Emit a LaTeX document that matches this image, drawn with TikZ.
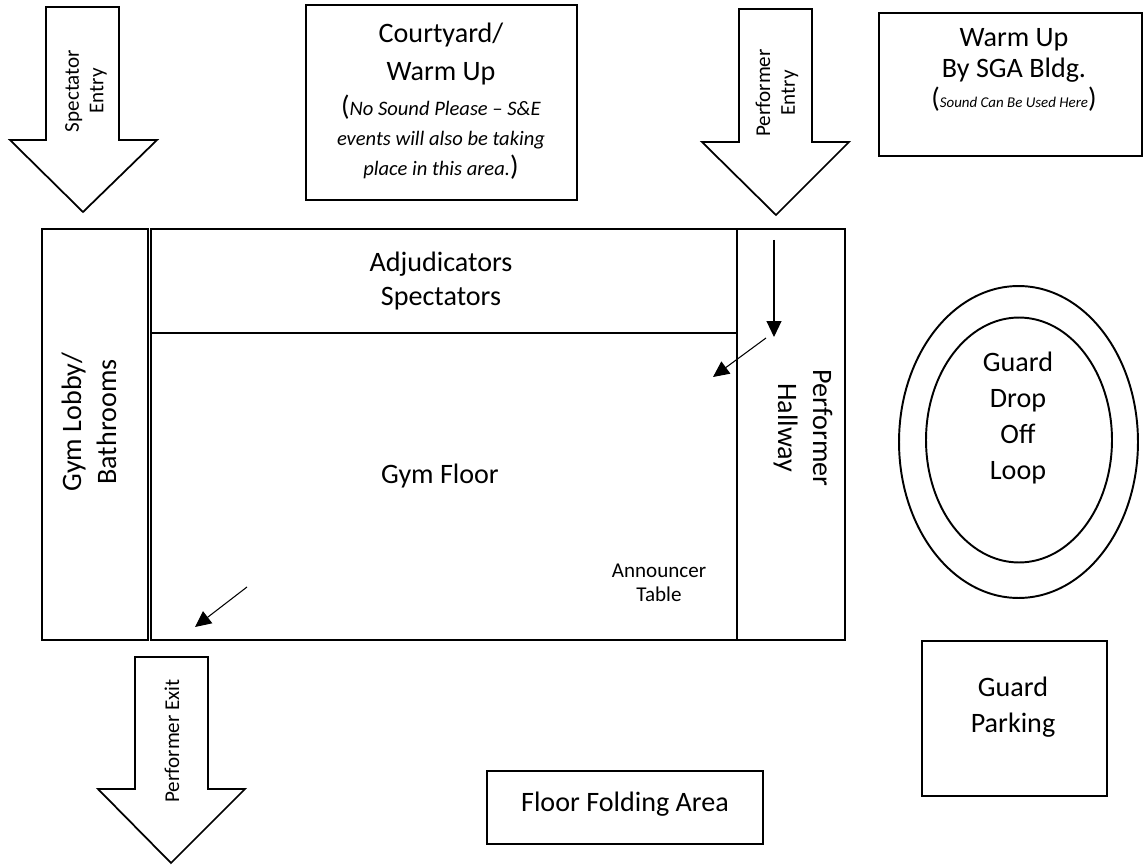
\documentclass[tikz,border=0pt]{standalone}
\usepackage{fontspec}
\setmainfont{Carlito}
\usetikzlibrary{shapes.geometric, arrows.meta}

\begin{document}
\begin{tikzpicture}[
    x=0.02cm, y=-0.02cm,
    area/.style={rectangle, draw, line width=1.2pt, inner sep=0pt},
    hall/.style={rectangle, draw, line width=1.5pt, inner sep=0pt},
    ring/.style={ellipse, draw, line width=1.1pt, inner sep=0pt},
    bigarrow/.style={draw, line width=1pt, line join=miter},
    txt/.style={align=center, font=\fontsize{16}{20.5}\selectfont},
    small/.style={align=center, font=\fontsize{12}{14}\selectfont},
    flow/.style={-{Triangle[length=0.32cm, width=0.3cm]}, line width=0.6pt}
]
\useasboundingbox (0,0) rectangle (1144,865);

% Entry and exit arrows
\draw[bigarrow] (46,7) -- (119,7) -- (119,140) -- (157,140) -- (83,212) -- (10,140) -- (46,140) -- cycle;
\node[small, rotate=90] (specin) at (86,91) {Spectator\\Entry};
\draw[bigarrow] (739,9) -- (812,9) -- (812,142) -- (849,142) -- (776,215) -- (702,142) -- (739,142) -- cycle;
\node[small, rotate=90] (perfin) at (777,93) {Performer\\Entry};
\draw[bigarrow] (135,657) -- (208,657) -- (208,789) -- (245,789) -- (171,863) -- (98,789) -- (135,789) -- cycle;
\node[small, rotate=90] (perfout) at (172,741) {Performer Exit};

% Warm up areas
\node[area, minimum width=5.42cm, minimum height=3.9cm] (court) at (441.5,102.5) {};
\node[txt, font=\fontsize{16}{17}\selectfont] (courttxt) at (441,101) {Courtyard/\\[4.5pt]Warm Up\\[3pt](\textit{\fontsize{11.7}{14}\selectfont No Sound Please – S\&E}\\\textit{\fontsize{11.7}{14}\selectfont events will also be taking}\\\textit{\fontsize{11.7}{14}\selectfont place in this area.})};
\node[area, minimum width=5.26cm, minimum height=2.86cm] (sga) at (1010.5,84.5) {};
\node[txt, font=\fontsize{16}{17.6}\selectfont] (sgatxt) at (1014,70) {Warm Up\\By SGA Bldg.\\(\textit{\fontsize{8.5}{10}\selectfont Sound Can Be Used Here})};

% Gym building
\node[hall, minimum width=2.12cm, minimum height=8.22cm] (lobby) at (95,434.5) {};
\node[small, font=\fontsize{16}{20}\selectfont, rotate=90] (lobbytxt) at (89,422) {Gym Lobby/\\Bathrooms};
\node[hall, minimum width=11.72cm, minimum height=8.22cm] (gym) at (444,434.5) {};
\node[hall, minimum width=11.72cm, minimum height=2.08cm] (stands) at (444,281) {};
\node[txt, font=\fontsize{16}{19.9}\selectfont] (standstxt) at (441,281) {Adjudicators\\Spectators};
\node[hall, minimum width=2.16cm, minimum height=8.22cm] (hallway) at (791,434.5) {};
\node[small, font=\fontsize{16}{20}\selectfont, rotate=-90] (halltxt) at (803,428) {Performer\\Hallway};
\node[txt] (floor) at (440,476) {Gym Floor};
\node[small] (announcer) at (659,583) {Announcer\\Table};

% Traffic flow
\coordinate (hallin) at (774,240);
\coordinate (hallturn) at (774,337);
\coordinate (turnfrom) at (766,338);
\coordinate (gymin) at (713,377);
\coordinate (exitfrom) at (247,587);
\coordinate (gymout) at (195,627);
\draw[flow] (hallin) -- (hallturn);
\draw[flow] (turnfrom) -- (gymin);
\draw[flow] (exitfrom) -- (gymout);

% Drop off loop and parking
\node[ring, minimum width=4.78cm, minimum height=6.24cm] (outerloop) at (1018.5,442) {};
\node[ring, minimum width=3.72cm, minimum height=4.9cm] (innerloop) at (1019,440) {};
\node[txt] (looptxt) at (1018,418) {Guard\\Drop\\Off\\Loop};
\node[area, minimum width=3.7cm, minimum height=3.1cm] (parking) at (1014.5,718.5) {};
\node[txt] (parktxt) at (1013,707) {Guard\\Parking};
\node[area, minimum width=5.52cm, minimum height=1.46cm] (folding) at (625,807.5) {};
\node[txt] (foldtxt) at (625,804) {Floor Folding Area};
\end{tikzpicture}
\end{document}
